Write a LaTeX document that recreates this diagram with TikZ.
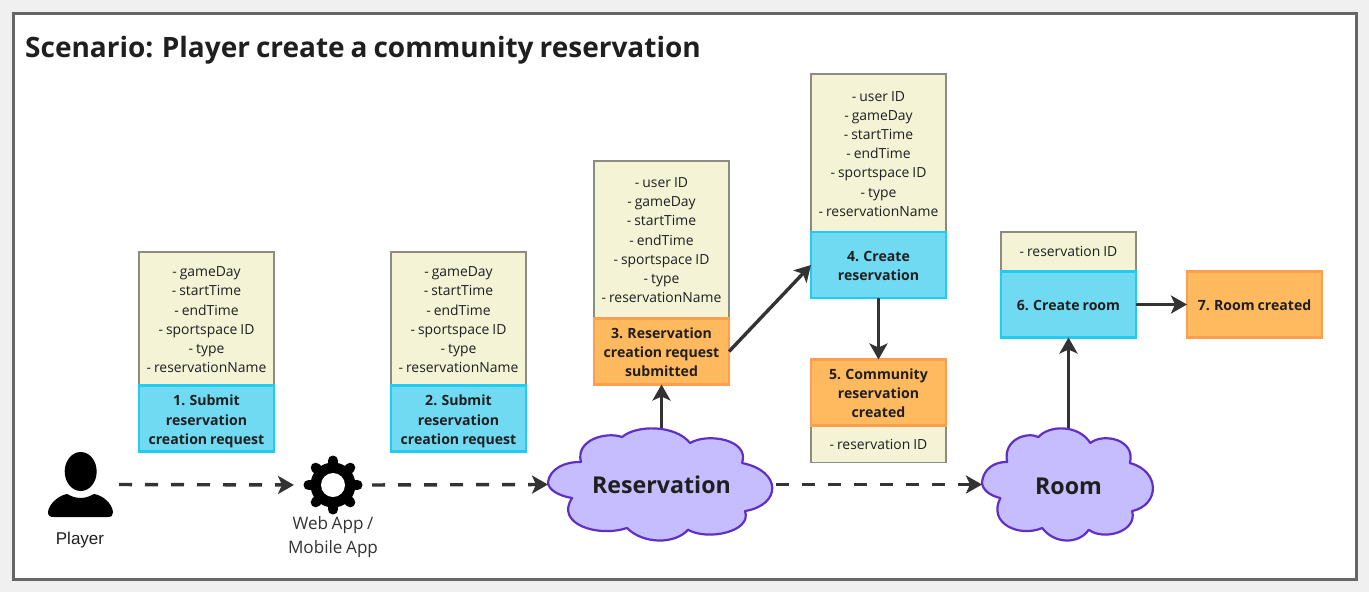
\documentclass[tikz,border=0pt]{standalone}
\usepackage{fontspec}
\setmainfont{Open Sans}[WordSpace=0.82]
\newfontfamily\arialf{Liberation Sans}
\usetikzlibrary{arrows.meta}
\definecolor{pagebg}{HTML}{F0F0F0}
\definecolor{framec}{HTML}{666666}
\definecolor{linec}{HTML}{333333}
\definecolor{txtc}{HTML}{1F1F1F}
\definecolor{yel}{HTML}{F4F3D6}
\definecolor{yelb}{HTML}{8C8C80}
\definecolor{blu}{HTML}{70DAF2}
\definecolor{blub}{HTML}{22CCF0}
\definecolor{ora}{HTML}{FFB95E}
\definecolor{orab}{HTML}{FF9E4D}
\definecolor{clf}{HTML}{C5BDFF}
\definecolor{clb}{HTML}{5F30C8}
\newcommand{\st}[1]{\rule{0pt}{#1pt}}
\newcommand{\cloudpath}[2]{%
\begin{scope}[shift={#1},xscale=#2,yscale=113]
\draw[clb,fill=clf,line width=2.2pt,line join=round]
 (0,.478) .. controls (.01,.36) and (.07,.30) .. (.145,.30)
 .. controls (.12,.10) and (.26,.03) .. (.326,.08)
 .. controls (.39,-.03) and (.56,-.03) .. (.626,.133)
 .. controls (.70,.04) and (.89,.10) .. (.855,.31)
 .. controls (1.03,.38) and (1.03,.68) .. (.868,.735)
 .. controls (.90,.92) and (.70,1.0) .. (.617,.90)
 .. controls (.56,1.03) and (.42,1.03) .. (.348,.885)
 .. controls (.22,.97) and (.03,.85) .. (.106,.62)
 .. controls (.05,.60) and (.0,.55) .. cycle;
\end{scope}}
\tikzset{
 x=1pt,y=-1pt,
 basebox/.style={rectangle,minimum width=135pt,inner sep=0pt,outer sep=0pt,align=center,text=txtc},
 yelbox/.style={basebox,draw=yelb,fill=yel,line width=1.5pt,font=\fontsize{13.9}{19.2}\selectfont},
 blubox/.style={basebox,draw=blub,fill=blu,line width=2.5pt,minimum height=66pt,font=\fontsize{14.1}{19.2}\selectfont\bfseries},
 orabox/.style={basebox,draw=orab,fill=ora,line width=2.5pt,minimum height=66pt,font=\fontsize{14.1}{19.2}\selectfont\bfseries},
 ghost/.style={rectangle,inner sep=0pt,outer sep=0pt,text=txtc},
 conn/.style={linec,line width=3.4pt,-{Stealth[length=16pt,width=18pt,inset=4pt]}},
 dconn/.style={conn,dash pattern=on 13pt off 13pt},
}
\begin{document}
\begin{tikzpicture}
\useasboundingbox (0,0) rectangle (1369,592);
\fill[pagebg] (0,0) rectangle (1369,592);
\draw[framec,fill=white,line width=3pt] (13,13) rectangle (1356,579);
\node[anchor=base west,inner sep=0pt,text=txtc,font=\fontsize{28}{32}\selectfont\bfseries] (title) at (25,57) {Scenario: Player create a community reservation};

% yellow boxes
\node[yelbox,minimum height=133pt] (y1) at (206.5,318.5) {\st{12.5}- gameDay\\- startTime\\- endTime\\- sportspace ID\\- type\\- reservationName};
\node[yelbox,minimum height=133pt] (y2) at (458.5,318.5) {\st{12.5}- gameDay\\- startTime\\- endTime\\- sportspace ID\\- type\\- reservationName};
\node[yelbox,minimum height=157pt] (y3) at (661.5,239.5) {\st{11.5}- user ID\\- gameDay\\- startTime\\- endTime\\- sportspace ID\\- type\\- reservationName};
\node[yelbox,minimum height=158pt] (y4) at (878.5,153) {\st{11.5}- user ID\\- gameDay\\- startTime\\- endTime\\- sportspace ID\\- type\\- reservationName};
\node[yelbox,minimum height=36pt] (y5) at (878.5,444.5) {- reservation ID};
\node[yelbox,minimum height=39pt] (y6) at (1068.5,251.5) {- reservation ID};

% step boxes
\node[blubox] (s1) at (206.5,418.5) {\st{16.5}1. Submit\\reservation\\creation request};
\node[blubox] (s2) at (458.5,418.5) {\st{16.5}2. Submit\\reservation\\creation request};
\node[orabox] (s3) at (661.5,351.5) {\st{12.5}3. Reservation\\creation request\\submitted};
\node[blubox] (s4) at (878.5,265) {\st{12.5}4. Create\\reservation};
\node[orabox] (s5) at (878.5,392.5) {\st{12.5}5. Community\\reservation\\created};
\node[blubox] (s6) at (1068.5,304.5) {\st{13}6. Create room};
\node[orabox] (s7) at (1254.5,304.5) {\st{13}7. Room created};

% clouds
\cloudpath{(548,428)}{227}
\cloudpath{(982,428)}{173}
\node[ghost,minimum width=227pt,minimum height=113pt,font=\fontsize{23.2}{28}\selectfont\bfseries] (res) at (661.5,484.5) {\st{19}Reservation};
\node[ghost,minimum width=173pt,minimum height=113pt,font=\fontsize{23.2}{28}\selectfont\bfseries] (room) at (1068.5,484.5) {\st{20}Room};

% player icon
\node[ghost,minimum width=65pt,minimum height=65pt] (player) at (80.5,484.5) {};
\fill[black] (80.7,471.5) ellipse [x radius=16pt,y radius=19.5pt];
\fill[black] (81,498) .. controls (75,498) and (71,496) .. (67,494)
 .. controls (60,495) and (49,503) .. (48,512)
 .. controls (48,516) and (50,517) .. (54,517)
 -- (108,517) .. controls (112,517) and (113,515) .. (113,512)
 .. controls (112,503) and (102,495) .. (94,494)
 .. controls (90,496) and (86,498) .. (81,498) -- cycle;
\node[anchor=base,inner sep=0pt,text=txtc,font=\arialf\fontsize{17}{20}\selectfont] (plbl) at (80,544.5) {Player};

% gear icon
\node[ghost,minimum width=58pt,minimum height=58pt] (gear) at (333,485) {};
\fill[black] (333,485) circle [radius=22.5pt];
\foreach \a in {0,45,...,315}
  \draw[black,line width=10pt,line cap=round] (333,485) ++(\a:15pt) -- ++(\a:9.5pt);
\fill[white] (333,485) circle [radius=12pt];
\node[anchor=north,inner sep=0pt,align=center,text=linec,font=\fontsize{17.1}{24}\selectfont] (glbl) at (333,516.5) {Web App /\\Mobile App};

% connectors
\draw[dconn,shorten <=6pt,shorten >=10pt] (player.east) -- (gear.west);
\draw[dconn,shorten <=10pt] (gear.east) -- (res.west);
\draw[dconn,shorten <=1pt] (res.east) -- (room.west);
\draw[conn] (res.north) -- (s3.south);
\draw[conn] (s3.east) -- (s4.west);
\draw[conn] (s4.south) -- (s5.north);
\draw[conn] (room.north) -- (s6.south);
\draw[conn] (s6.east) -- (s7.west);
\end{tikzpicture}
\end{document}
